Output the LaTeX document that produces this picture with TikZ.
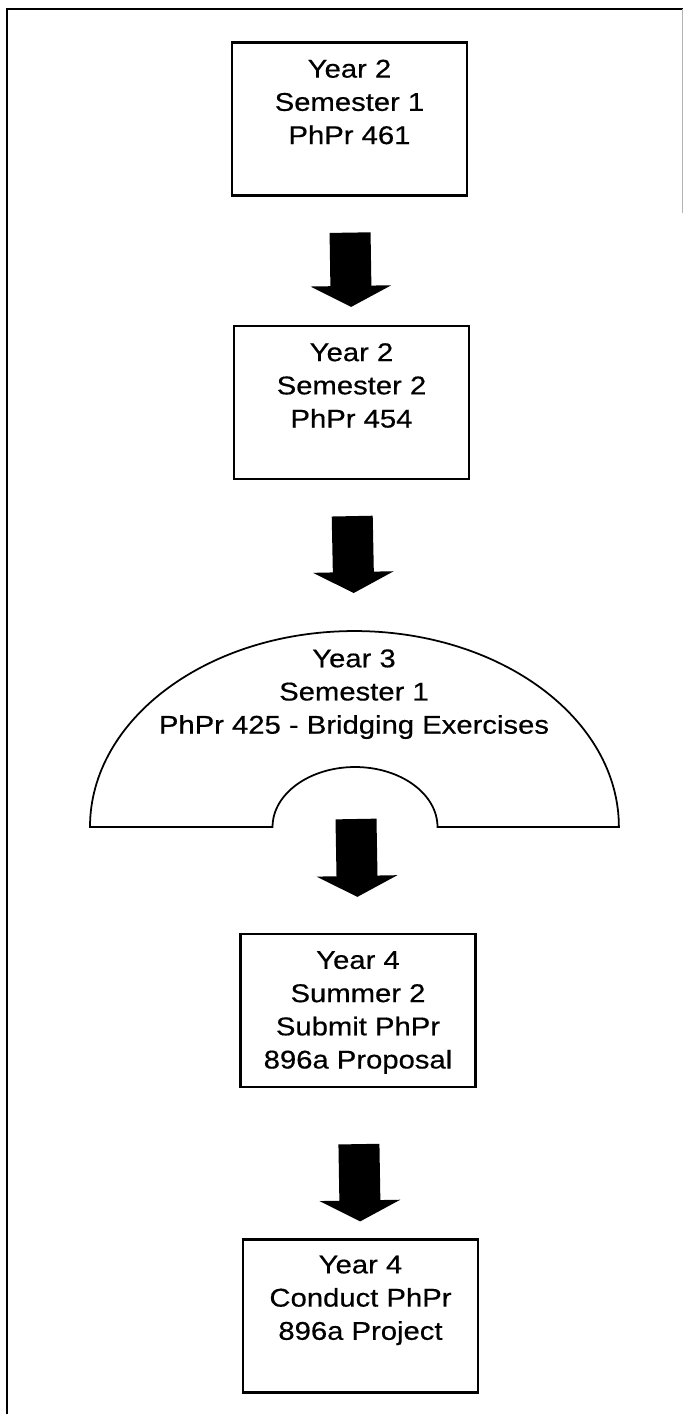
\documentclass[tikz,border=0pt]{standalone}
\usepackage{fontspec}
\setmainfont[FakeStretch=1.14, FakeBold=0.5]{Liberation Sans}
\usepackage{tikz}
\usetikzlibrary{arrows.meta,positioning}

\tikzset{
    stage/.style={draw, line width=1.3pt, minimum width=4.7cm, minimum height=3.06cm, inner sep=0pt},
    stagetext/.style={align=center, inner sep=0pt, font=\fontsize{14.6}{18.9}\selectfont},
    bigarrow/.style={line width=0.82cm, -{Triangle[width=1.6cm,length=0.42cm]}}
}

\begin{document}
\begin{tikzpicture}[x=0.02cm, y=0.02cm]
    \useasboundingbox (0,0) rectangle (683,-1414);

    % Frame
    \draw[line width=1.3pt] (7,-1414) -- (7,-9) -- (683,-9);
    \draw[gray!60, line width=0.5pt] (682,-9) -- (682,-213);

    % Boxes
    \node[stage] (y2s1) at (349.5,-119) {};
    \node[stagetext, below=0.36cm of y2s1.north] (y2s1txt) {Year 2\\Semester 1\\PhPr 461};

    \node[stage] (y2s2) at (351.5,-402.5) {};
    \node[stagetext, below=0.36cm of y2s2.north] (y2s2txt) {Year 2\\Semester 2\\PhPr 454};

    \node[stage] (y4s2) at (358,-1010.5) {};
    \node[stagetext, below=0.36cm of y4s2.north] (y4s2txt) {Year 4\\Summer 2\\Submit PhPr\\896a Proposal};

    \node[stage] (y4pr) at (360.5,-1316) {};
    \node[stagetext, below=0.34cm of y4pr.north] (y4prtxt) {Year 4\\Conduct PhPr\\896a Project};

    % Half ring
    \draw[line width=1pt] (90,-827) arc[start angle=180, end angle=0, x radius=5.29cm, y radius=3.92cm]
        -- (437.5,-827) arc[start angle=0, end angle=180, x radius=1.65cm, y radius=1.2cm] -- cycle;
    \node[stagetext, anchor=north] (y3s1) at (354,-649) {Year 3\\Semester 1\\PhPr 425 - Bridging Exercises};
    \coordinate (ringtop) at (354.5,-631);
    \coordinate (notch) at (356,-819);

    % Arrows
    \draw[bigarrow, shorten <=0.72cm, shorten >=0.36cm] (y2s1.south) -- (y2s2.north);
    \draw[bigarrow, shorten <=0.72cm, shorten >=0.76cm] (y2s2.south) -- (ringtop);
    \draw[bigarrow, shorten >=0.72cm] (notch) -- (y4s2.north);
    \draw[bigarrow, shorten <=1.12cm, shorten >=0.34cm] (y4s2.south) -- (y4pr.north);
\end{tikzpicture}
\end{document}
